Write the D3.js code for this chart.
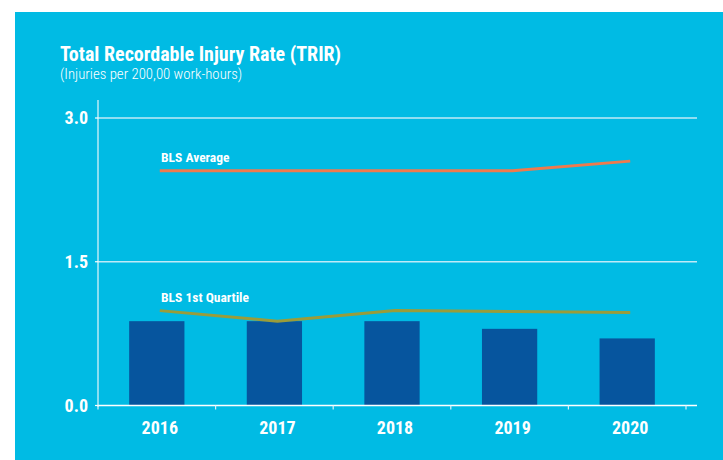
<!DOCTYPE html>
<html>
<head>
<meta charset="utf-8">
<script src="https://cdn.jsdelivr.net/npm/d3@7"></script>
<style>
  body { margin: 0; background: #fff; }
  svg text { font-family: "Liberation Sans Narrow", "Roboto Condensed", "Arial Narrow", sans-serif; fill: #fff; }
</style>
</head>
<body>
<div id="chart"></div>
<script>
// data
const years = ["2016", "2017", "2018", "2019", "2020"];
const trir = [0.88, 0.88, 0.88, 0.80, 0.70];
const blsAverage = [2.45, 2.45, 2.45, 2.45, 2.55];
const blsQuartile = [0.99, 0.88, 0.99, 0.98, 0.97];
const yTicks = [0, 1.5, 3.0];

const W = 723, H = 460;
const svg = d3.select("#chart").append("svg").attr("width", W).attr("height", H);

// blue panel
svg.append("rect").attr("x", 15).attr("y", 12).attr("width", W - 15).attr("height", H - 12).attr("fill", "#00bbe4");

const x = d3.scaleBand().domain(years).range([98, 686]).paddingInner(0.53).paddingOuter(0.265);
const xb = d3.scaleBand().domain(years).range([98, 686]); // full bands, for tick and line positions
const y = d3.scaleLinear().domain([0, 3]).range([405.5, 118]);

// gridlines
svg.append("g").selectAll("line").data(yTicks.filter(d => d > 0)).join("line")
  .attr("x1", 98).attr("x2", 697)
  .attr("y1", d => y(d)).attr("y2", d => y(d))
  .attr("stroke", "#bfeaf7").attr("stroke-width", 1.6);

// bars
svg.append("g").selectAll("rect").data(years).join("rect")
  .attr("x", d => x(d)).attr("width", x.bandwidth())
  .attr("y", (d, i) => y(trir[i])).attr("height", (d, i) => y(0) - y(trir[i]))
  .attr("fill", "#06559e");

// axes
svg.append("line").attr("x1", 98).attr("x2", 98).attr("y1", 100).attr("y2", 407)
  .attr("stroke", "#e6f7fc").attr("stroke-width", 1.2);
svg.append("line").attr("x1", 98).attr("x2", 697).attr("y1", y(0)).attr("y2", y(0))
  .attr("stroke", "#ffffff").attr("stroke-width", 1.4);

// y ticks
svg.append("g").selectAll("line").data(yTicks).join("line")
  .attr("x1", 95).attr("x2", 98).attr("y1", d => y(d)).attr("y2", d => y(d))
  .attr("stroke", "#fff").attr("stroke-width", 1.2);
svg.append("g").selectAll("text").data(yTicks).join("text")
  .attr("x", 88).attr("y", d => y(d) + 6)
  .attr("text-anchor", "end")
  .style("font-size", "18px").style("font-weight", "bold")
  .text(d => d3.format(".1f")(d));

// x ticks at band edges
const edges = years.map(d => xb(d)).concat([686]);
svg.append("g").selectAll("line").data(edges).join("line")
  .attr("x1", d => d).attr("x2", d => d).attr("y1", y(0)).attr("y2", y(0) + 4)
  .attr("stroke", "#d8f2fa").attr("stroke-width", 1.2);
svg.append("g").selectAll("text").data(years).join("text")
  .attr("x", d => xb(d) + xb.bandwidth() / 2 + 3).attr("y", 434)
  .attr("text-anchor", "middle")
  .style("font-size", "18px").style("font-weight", "bold")
  .text(d => d);

// BLS lines
const line = d3.line().x((d, i) => xb(years[i]) + xb.bandwidth() / 2 + 3).y(d => y(d));
svg.append("path").datum(blsAverage).attr("d", line)
  .attr("fill", "none").attr("stroke", "#ef7a4d").attr("stroke-width", 3);
svg.append("path").datum(blsQuartile).attr("d", line)
  .attr("fill", "none").attr("stroke", "#9a9c3a").attr("stroke-width", 3);

svg.append("text").attr("x", 161).attr("y", 162)
  .style("font-size", "13.5px").style("font-weight", "bold").text("BLS Average");
svg.append("text").attr("x", 161).attr("y", 302)
  .style("font-size", "13.5px").style("font-weight", "bold").text("BLS 1st Quartile");

// titles
svg.append("text").attr("x", 60).attr("y", 61)
  .style("font-size", "20px").style("font-weight", "bold")
  .text("Total Recordable Injury Rate (TRIR)");
svg.append("text").attr("x", 60).attr("y", 79)
  .style("font-size", "14.8px").style("font-weight", "300")
  .text("(Injuries per 200,00 work-hours)");
</script>
</body>
</html>
